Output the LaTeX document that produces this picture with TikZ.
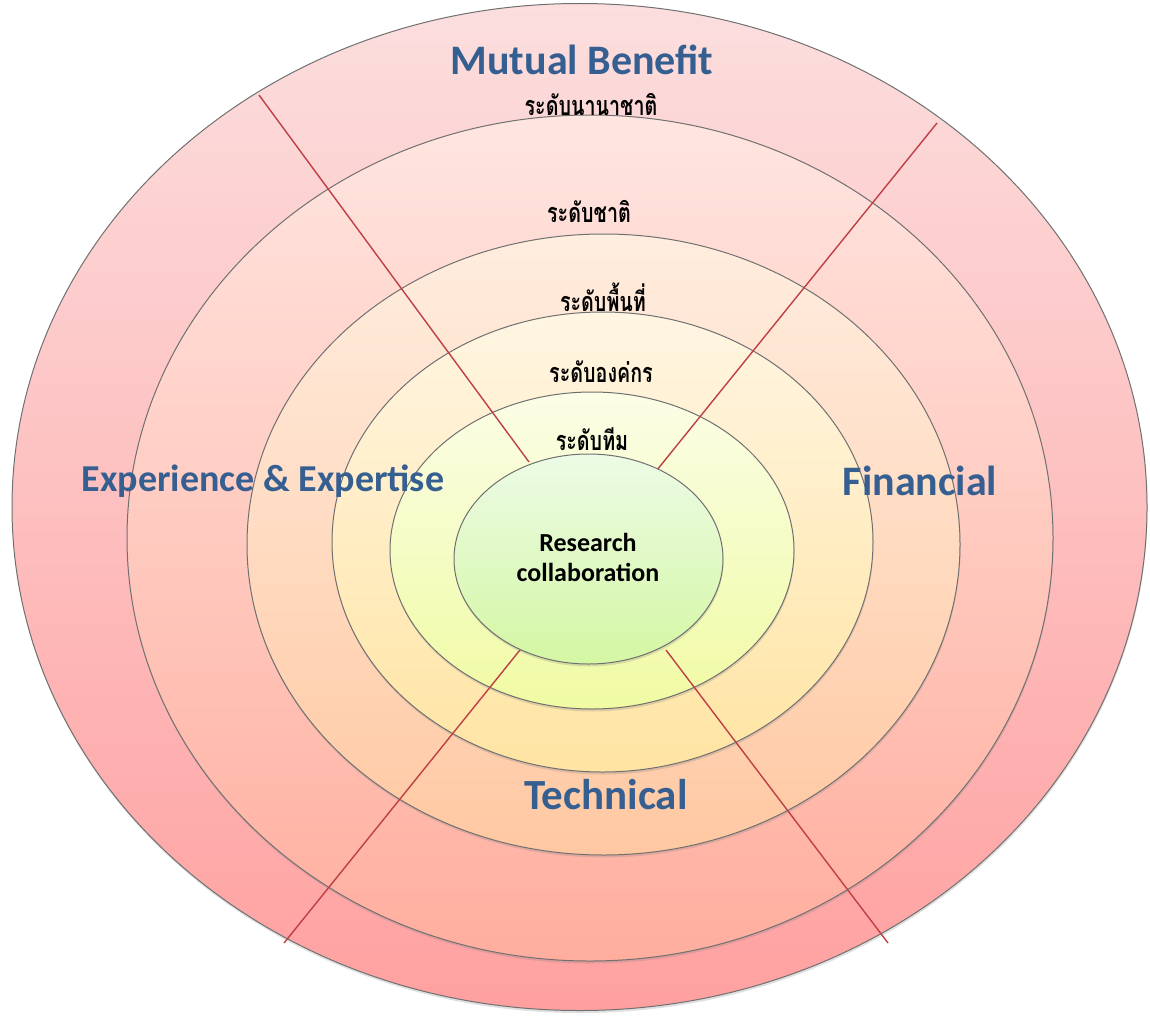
\documentclass[tikz,border=0pt]{standalone}
\usepackage{fontspec}
\setmainfont{Carlito}
\newfontfamily\thaifont[Script=Thai]{Loma}
\usetikzlibrary{shadows}
\definecolor{lblblue}{HTML}{365F91}
\definecolor{ringedge}{HTML}{707070}
\definecolor{spoke}{HTML}{BE4045}
\newcommand{\thaitxt}[1]{\scalebox{0.73}[1]{#1}}
\tikzset{
  ring/.style={draw=ringedge, line width=1pt,
    drop shadow={opacity=0.25, shadow xshift=0.5pt, shadow yshift=-2.5pt}},
  spokeline/.style={draw=spoke, line width=1.4pt},
  bigblue/.style={font=\fontsize{42}{50}\selectfont\bfseries, text=lblblue, inner sep=0pt},
  thailbl/.style={font=\thaifont\bfseries\fontsize{27}{30}\selectfont, text=black, inner sep=0pt},
}
\begin{document}
\begin{tikzpicture}[x=1pt,y=-1pt]
\useasboundingbox (0,0) rectangle (1150,1022);
% rings, outer to inner
\path[ring, top color={rgb,255:red,252;green,222;blue,222}, bottom color={rgb,255:red,255;green,160;blue,160}]
  (579.5,507) ellipse [x radius=567.5, y radius=503.5];
\path[ring, top color={rgb,255:red,255;green,229;blue,224}, bottom color={rgb,255:red,255;green,174;blue,158}]
  (590,538) ellipse [x radius=463, y radius=423];
\path[ring, top color={rgb,255:red,255;green,237;blue,223}, bottom color={rgb,255:red,255;green,200;blue,162}]
  (603.5,544.5) ellipse [x radius=356.5, y radius=310.5];
\path[ring, top color={rgb,255:red,255;green,245;blue,226}, bottom color={rgb,255:red,255;green,228;blue,162}]
  (602.5,542) ellipse [x radius=270.5, y radius=230];
\path[ring, top color={rgb,255:red,251;green,253;blue,230}, bottom color={rgb,255:red,240;green,251;blue,163}]
  (592,550.5) ellipse [x radius=202, y radius=158.5];
% spokes
\coordinate (ulin) at (529,462); \coordinate (ulout) at (259,95);
\coordinate (urin) at (657,470); \coordinate (urout) at (937,123);
\coordinate (llin) at (520,650); \coordinate (llout) at (284,943);
\coordinate (lrin) at (666,650); \coordinate (lrout) at (888,943);
\draw[spokeline] (ulin) -- (ulout);
\draw[spokeline] (urin) -- (urout);
\draw[spokeline] (llin) -- (llout);
\draw[spokeline] (lrin) -- (lrout);
% core
\path[ring, top color={rgb,255:red,236;green,251;blue,230}, bottom color={rgb,255:red,212;green,247;blue,163}]
  (588.5,559) ellipse [x radius=134.5, y radius=105];
\node[align=center, font=\fontsize{26}{30}\selectfont\bfseries, inner sep=0pt] (core) at (588,557) {Research\\collaboration};
% labels
\node[bigblue] (mutual) at (582,60) {Mutual Benefit};
\node[bigblue, font=\fontsize{38}{46}\selectfont\bfseries] (exp) at (263,481) {Experience \& Expertise};
\node[bigblue] (fin) at (920,481) {Financial};
\node[bigblue, font=\fontsize{43}{50}\selectfont\bfseries] (tech) at (606,795) {Technical};
\node[thailbl] (l1) at (591,104) {\thaitxt{ระดับนานาชาติ}};
\node[thailbl] (l2) at (589,211) {\thaitxt{ระดับชาติ}};
\node[thailbl] (l3) at (603,297) {\thaitxt{ระดับพื้นที่}};
\node[thailbl] (l4) at (601,372) {\thaitxt{ระดับองค่กร}};
\node[thailbl] (l5) at (592,439) {\thaitxt{ระดับทีม}};
\end{tikzpicture}
\end{document}
